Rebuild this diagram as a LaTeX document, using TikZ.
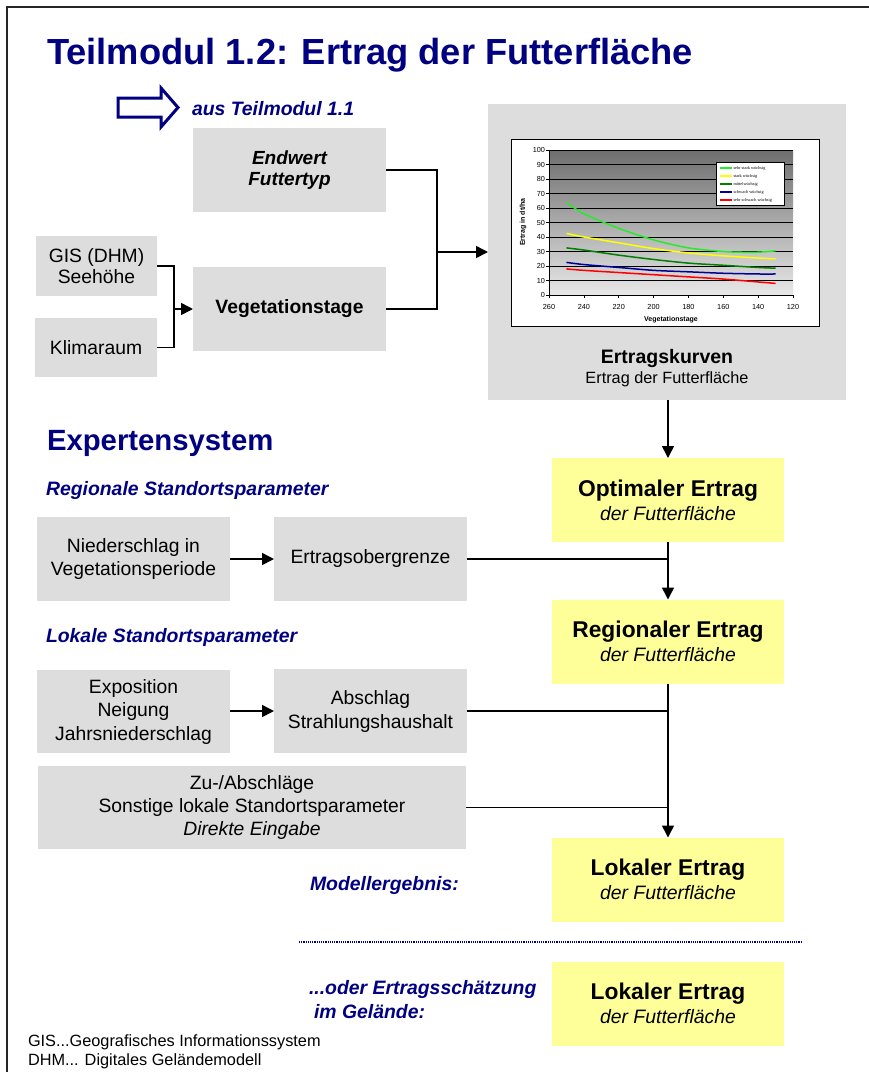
\documentclass[tikz,border=0pt]{standalone}
\usepackage{fontspec}
\setmainfont{Liberation Sans}
\newfontfamily\legendfont{Liberation Serif}
\usetikzlibrary{arrows.meta}

\definecolor{navy}{RGB}{0,0,128}
\definecolor{boxgray}{RGB}{221,221,221}
\definecolor{boxyellow}{RGB}{255,255,153}
\definecolor{plottop}{RGB}{110,110,110}
\definecolor{plotbot}{RGB}{232,232,232}
\definecolor{cvlime}{RGB}{40,235,40}
\definecolor{cvyellow}{RGB}{255,255,0}
\definecolor{cvgreen}{RGB}{0,128,0}
\definecolor{cvblue}{RGB}{0,0,150}
\definecolor{cvred}{RGB}{255,0,0}

\newcommand\fs[2]{\fontsize{#1}{#2}\selectfont}

\begin{document}
\begin{tikzpicture}[x=1pt,y=-1pt,
  every node/.style={inner sep=0pt, outer sep=0pt},
  graybox/.style={fill=boxgray, align=center, font=\fs{19.3}{23}},
  yellowbox/.style={fill=boxyellow, align=center, minimum width=232pt, minimum height=84pt, font=\fs{19.4}{24}},
  conn/.style={line width=1.6pt, draw=black},
  arr/.style={conn, -{Triangle[length=12pt,width=12pt]}},
  heading/.style={anchor=base west, text=navy, font=\fs{19.4}{22}\bfseries\itshape},
  tick/.style={font=\fs{7.3}{8}},
  curve/.style={line width=1.5pt},
]
\useasboundingbox (0,0) rectangle (869,1072);

% page frame
\draw[line width=2pt, black!85] (7,1072) -- (7,7) -- (869,7);

% title and import arrow
\node[anchor=base west, text=navy, font=\fs{36.3}{40}\bfseries] (title) at (47,64) {Teilmodul 1.2: Ertrag der Futterfläche};
\draw[navy, line width=3pt, fill=white, line join=miter]
  (118,98) -- (161,98) -- (161,88) -- (178,107.5) -- (161,127) -- (161,117) -- (118,117) -- cycle;
\node[heading] (aus) at (192,115) {aus Teilmodul 1.1};

% input boxes
\node[graybox, minimum width=193pt, minimum height=84pt, font=\fs{19}{21}\bfseries\itshape] (endwert) at (289.5,170) {Endwert\\Futtertyp};
\node[graybox, minimum width=121pt, minimum height=60pt, font=\fs{19.3}{21}] (gis) at (96.5,266) {GIS (DHM)\\Seehöhe};
\node[graybox, minimum width=122pt, minimum height=59pt] (klima) at (96,347.5) {Klimaraum};
\node[graybox, minimum width=193pt, minimum height=84pt, font=\fs{19.3}{23}\bfseries] (veg) at (289.5,309) {\raisebox{-2pt}{Vegetationstage}};

% chart panel
\node[fill=boxgray, minimum width=358pt, minimum height=296pt] (chart) at (667,252) {};
\fill[white] (511,139) rectangle (819,326);
\draw[black, line width=1pt] (511,139) rectangle (819,326);
\shade[top color=plottop, bottom color=plotbot] (549,150) rectangle (793,295);
\foreach \v in {10,20,...,100}
  \draw[black, line width=0.8pt] (549,{295-1.45*\v}) -- (793,{295-1.45*\v});
\draw[black, line width=0.8pt] (549,150) -- (549,295) -- (793,295);
\foreach \v in {0,10,...,100} {
  \draw[black, line width=0.6pt] (546,{295-1.45*\v}) -- (549,{295-1.45*\v});
  \node[tick, anchor=east] at (545,{295-1.45*\v}) {\v};
}
\foreach \d in {260,240,...,120} {
  \draw[black, line width=0.6pt] ({549+(260-\d)*1.743},295) -- ({549+(260-\d)*1.743},298);
  \node[tick] at ({549+(260-\d)*1.743},307) {\d};
}
\node[font=\fs{7}{8}\bfseries] (xlab) at (671,320) {Vegetationstage};
\node[font=\fs{7}{8}\bfseries, rotate=90] (ylab) at (523,222) {Ertrag in dt/ha};

\begin{scope}[shift={(1002.2pt,-295pt)}, x={(-1.743pt,0pt)}, y={(0pt,1.45pt)}]
  \draw[curve, cvlime] plot[smooth] coordinates {(250,64) (240,56) (220,46) (200,38) (180,32.5) (160,30) (150,29.5) (140,29.5) (130,30.5)};
  \draw[curve, cvyellow] plot[smooth] coordinates {(250,42.5) (240,40) (220,36) (200,32) (180,29) (160,27) (140,25.5) (130,25)};
  \draw[curve, cvgreen] plot[smooth] coordinates {(250,32.5) (240,31) (220,27.5) (200,24.5) (180,22) (160,20.5) (140,19) (130,18.5)};
  \draw[curve, cvblue] plot[smooth] coordinates {(250,22.5) (240,21) (220,19) (200,17) (180,16) (160,15) (140,14.5) (130,14.5)};
  \draw[curve, cvred] plot[smooth] coordinates {(250,18) (240,17) (220,15.5) (200,14) (180,12.5) (160,11) (140,9) (130,8)};
\end{scope}

% legend
\draw[black, line width=0.6pt, fill=white] (716,162) rectangle (784,205);
\foreach \y/\c/\t in {168/cvlime/sehr stark wüchsig, 176/cvyellow/stark wüchsig, 184/cvgreen/mittelwüchsig, 192/cvblue/schwach wüchsig, 200/cvred/sehr schwach wüchsig} {
  \draw[\c, line width=1.2pt] (720,\y) -- (732,\y);
  \node[anchor=west, font=\legendfont\fs{4.3}{5}] at (733.5,\y) {\t};
}
\node[anchor=base, font=\fs{19.5}{22}\bfseries] (kurven) at (667,363) {Ertragskurven};
\node[anchor=base, font=\fs{16.3}{20}] (kurvensub) at (667,383) {Ertrag der Futterfläche};

% upper connectors
\coordinate (jA) at (437,252);
\coordinate (jB) at (174,309);
\draw[conn] (endwert.east) -| (jA);
\draw[conn] (veg.east) -| (jA);
\draw[arr] (jA) -- (chart.west |- jA);
\draw[conn] (gis.east) -| (jB);
\draw[conn] (klima.east) -| (jB);
\draw[arr] (jB) -- (veg.west |- jB);

% expert system
\node[anchor=base west, text=navy, font=\fs{29.3}{32}\bfseries] (expert) at (47,450) {Expertensystem};
\node[heading] (regpar) at (46,495) {Regionale Standortsparameter};
\node[heading] (lokpar) at (46,642) {Lokale Standortsparameter};

\node[yellowbox] (opt) at (668,500) {{\fontsize{22.8}{24}\selectfont\bfseries Optimaler Ertrag}\\\itshape der Futterfläche};
\node[yellowbox] (reg) at (668,641.5) {{\fontsize{22.8}{24}\selectfont\bfseries Regionaler Ertrag}\\\itshape der Futterfläche};
\node[yellowbox] (lok) at (668,879.5) {{\fontsize{22.8}{24}\selectfont\bfseries Lokaler Ertrag}\\\itshape der Futterfläche};
\node[yellowbox] (lokb) at (668,1003.5) {{\fontsize{22.8}{24}\selectfont\bfseries Lokaler Ertrag}\\\itshape der Futterfläche};

\node[graybox, minimum width=193pt, minimum height=84pt] (nied) at (133.5,559) {Niederschlag in\\Vegetationsperiode};
\node[graybox, minimum width=193pt, minimum height=84pt] (ober) at (370.5,559) {\raisebox{-1.5pt}{Ertragsobergrenze}};
\node[graybox, minimum width=193pt, minimum height=83pt, font=\fs{19.3}{23.5}] (expo) at (133.5,711.5) {Exposition\\Neigung\\Jahrsniederschlag};
\node[graybox, minimum width=193pt, minimum height=84pt, font=\fs{19.3}{24}] (absch) at (370.5,711) {Abschlag\\Strahlungshaushalt};
\node[graybox, minimum width=428pt, minimum height=83pt] (zuab) at (252,807.5) {Zu-/Abschläge\\Sonstige lokale Standortsparameter\\\textit{Direkte Eingabe}};

% lower connectors
\draw[arr] (opt.north |- chart.south) -- (opt.north);
\draw[arr] (nied.east) -- (ober.west);
\draw[arr] (expo.east |- absch.east) -- (absch.west);
\draw[conn] (ober.east) -- (opt.south |- ober.east);
\draw[arr] (opt.south) -- (reg.north);
\draw[conn] (absch.east) -- (reg.south |- absch.east);
\draw[conn] (zuab.east) -- (reg.south |- zuab.east);
\draw[arr] (reg.south) -- (lok.north);

\node[heading] (ergebnis) at (310,890) {Modellergebnis:};
\draw[navy, densely dotted, line width=1.2pt] (299,942) -- (802,942);
\node[heading] (schaetz) at (309,994) {...oder Ertragsschätzung};
\node[heading] (gelaende) at (314,1018) {im Gelände:};

% footnotes
\node[anchor=base west, font=\fs{16.3}{18}] (fnA) at (28,1046) {GIS...Geografisches Informationssystem};
\node[anchor=base west, font=\fs{16.3}{18}] (fnB) at (28,1065) {DHM... Digitales Geländemodell};
\end{tikzpicture}
\end{document}
